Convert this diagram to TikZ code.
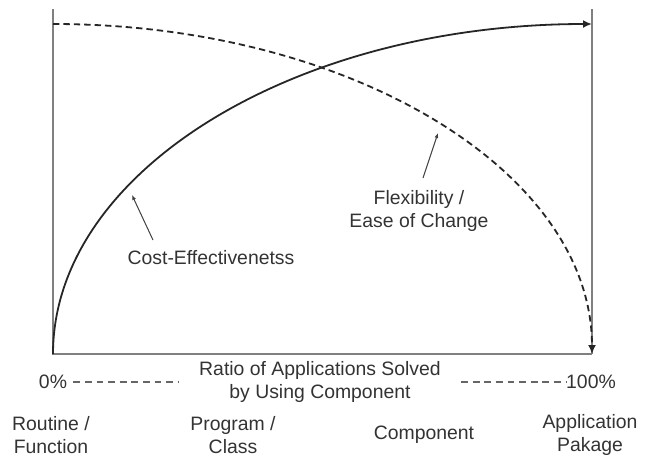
\documentclass[tikz,border=0pt]{standalone}
\usepackage{fontspec}
\setmainfont{Liberation Sans}
\usetikzlibrary{arrows.meta}

\tikzset{
  lbl/.style={align=center, text=black!80, font=\fontsize{9.7}{11.5}\selectfont, inner sep=0pt},
  axisline/.style={draw=black!50, line width=0.7pt},
  curve/.style={draw=black!85, line width=0.9pt, -{Latex[length=4.5pt,width=4pt]}},
  flexcurve/.style={curve, dash pattern=on 3.2pt off 2pt},
  pointer/.style={draw=black!75, line width=0.5pt, -{Latex[length=2.5pt,width=2pt]}},
  ratioline/.style={draw=black!60, line width=0.6pt, dash pattern=on 3.4pt off 2.4pt}
}

\begin{document}
\begin{tikzpicture}[x=0.5pt, y=-0.5pt]
\useasboundingbox (0,0) rectangle (649,457);

\def\xl{53};
\def\xr{592};
\def\yt{9};
\def\ya{24};
\def\yb{354};

% frame
\coordinate (tl) at (\xl, \ya);
\coordinate (bl) at (\xl, \yb);
\coordinate (tr) at (\xr, \ya);
\coordinate (br) at (\xr, \yb);

\draw[axisline] (\xl, \yt) -- (bl) -- (br);
\draw[axisline] (\xr, \yt) -- (br);

% the two curves
\draw[flexcurve] (tl) arc[start angle=-90, end angle=0, x radius=539, y radius=330];
\draw[curve] (bl) arc[start angle=180, end angle=270, x radius=539, y radius=330];

% labels on the curves
\node[lbl] (cost) at (211, 258) {Cost-Effectivenetss};
\coordinate (costtip) at (132, 195);
\draw[pointer] (153, 240) -- (costtip);

\node[lbl] (flex) at (419, 211) {Flexibility /\\Ease of Change};
\coordinate (flextip) at (438, 133);
\draw[pointer] (423, 178) -- (flextip);

% scale below
\node[lbl] (zero) at (53, 382) {0\%};
\node[lbl] (ratio) at (320, 382) {Ratio of Applications Solved\\by Using Component};
\node[lbl] (full) at (591, 382) {100\%};

\draw[ratioline] ([xshift=3pt]zero.east) -- ([xshift=-10pt]ratio.west);
\draw[ratioline] ([xshift=10pt]ratio.east) -- (full.west);

\node[lbl] (routine) at (51, 435) {Routine /\\Function};
\node[lbl] (program) at (233, 435) {Program /\\Class};
\node[lbl] (component) at (424, 435) {Component};
\node[lbl] (package) at (590, 435) {Application\\Pakage};

\end{tikzpicture}
\end{document}
